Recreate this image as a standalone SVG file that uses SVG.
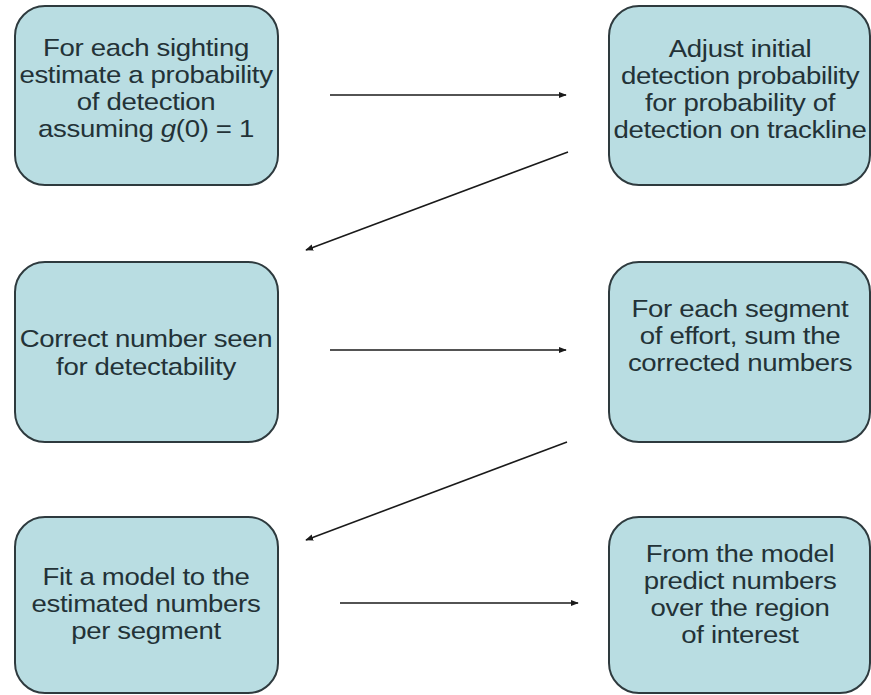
<svg xmlns="http://www.w3.org/2000/svg" width="871" height="695" viewBox="0 0 871 695">
<defs>
<style>
.box{fill:#b9dde2;stroke:#2e3a3e;stroke-width:2}
.t{font-family:"Liberation Sans",Arial,sans-serif;font-size:24px;fill:#233237;text-anchor:middle;letter-spacing:-0.3px}
.c{stroke:#1a1a1a;stroke-width:1.6;fill:none;marker-end:url(#ah)}
</style>
<marker id="ah" viewBox="0 0 10 10" refX="9" refY="5" markerWidth="5" markerHeight="5" orient="auto">
<path d="M0,1 L10,5 L0,9 z" fill="#1a1a1a"/>
</marker>
</defs>
<rect width="871" height="695" fill="#ffffff"/>
<g id="n1">
<rect class="box" x="15" y="6" width="263" height="179" rx="30"/>
<g transform="translate(146,0) scale(1.15,1)">
<text class="t" x="0" y="56">For each sighting</text>
<text class="t" x="0" y="83">estimate a probability</text>
<text class="t" x="0" y="110">of detection</text>
<text class="t" x="0" y="137">assuming <tspan font-style="italic">g</tspan>(0) = 1</text>
</g>
</g>
<g id="n2">
<rect class="box" x="609" y="6" width="261" height="179" rx="30"/>
<g transform="translate(740,0) scale(1.15,1)">
<text class="t" x="0" y="57">Adjust initial</text>
<text class="t" x="0" y="84">detection probability</text>
<text class="t" x="0" y="111">for probability of</text>
<text class="t" x="0" y="138">detection on trackline</text>
</g>
</g>
<g id="n3">
<rect class="box" x="15" y="262" width="263" height="180" rx="30"/>
<g transform="translate(146,0) scale(1.15,1)">
<text class="t" x="0" y="347">Correct number seen</text>
<text class="t" x="0" y="375">for detectability</text>
</g>
</g>
<g id="n4">
<rect class="box" x="609" y="262" width="261" height="180" rx="30"/>
<g transform="translate(740,0) scale(1.15,1)">
<text class="t" x="0" y="317">For each segment</text>
<text class="t" x="0" y="344">of effort, sum the</text>
<text class="t" x="0" y="371">corrected numbers</text>
</g>
</g>
<g id="n5">
<rect class="box" x="15" y="517" width="263" height="176" rx="30"/>
<g transform="translate(146,0) scale(1.15,1)">
<text class="t" x="0" y="585">Fit a model to the</text>
<text class="t" x="0" y="612">estimated numbers</text>
<text class="t" x="0" y="639">per segment</text>
</g>
</g>
<g id="n6">
<rect class="box" x="609" y="517" width="261" height="176" rx="30"/>
<g transform="translate(740,0) scale(1.15,1)">
<text class="t" x="0" y="562">From the model</text>
<text class="t" x="0" y="589">predict numbers</text>
<text class="t" x="0" y="616">over the region</text>
<text class="t" x="0" y="643">of interest</text>
</g>
</g>
<g id="connectors">
<line class="c" x1="330" y1="95" x2="566" y2="95"/>
<line class="c" x1="568" y1="152" x2="306" y2="250"/>
<line class="c" x1="330" y1="350" x2="566" y2="350"/>
<line class="c" x1="567" y1="442" x2="306" y2="540"/>
<line class="c" x1="340" y1="603" x2="578" y2="603"/>
</g>
</svg>
